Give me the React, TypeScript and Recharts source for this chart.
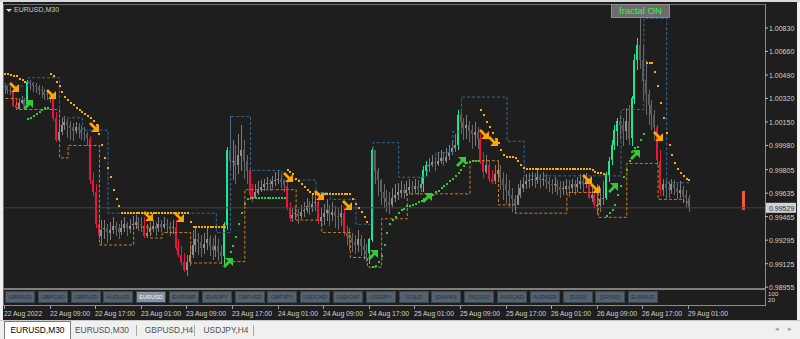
import { ComposedChart, Bar, Line, XAxis, YAxis, ReferenceLine } from "recharts";

// EURUSD M30 bars, 22 Aug 01:00 .. 29 Aug 01:00 (open = previous close)
const firstOpen = 1.0041;
const closes = [
  1.0040, 1.0038, 1.0037, 1.0027, 1.0025, 1.0029, 1.0031, 1.0027, 1.0044, 1.0043, 1.0041, 1.0040, 1.0038, 1.0037, 1.0035, 1.0034,
  1.0033, 1.0018, 1.0002, 1.0008, 1.0013, 1.0015, 1.0013, 1.0011, 1.0008, 1.0011, 1.0009, 1.0007, 1.0006, 1.0003, 0.9973, 0.9964,
  0.9941, 0.9933, 0.9937, 0.9938, 0.9935, 0.9937, 0.9940, 0.9938, 0.9935, 0.9938, 0.9941, 0.9938, 0.9940, 0.9941, 0.9943, 0.9941,
  0.9940, 0.9933, 0.9935, 0.9938, 0.9940, 0.9938, 0.9941, 0.9939, 0.9941, 0.9940, 0.9938, 0.9939, 0.9924, 0.9919, 0.9914, 0.9908,
  0.9914, 0.9919, 0.9926, 0.9930, 0.9928, 0.9924, 0.9927, 0.9930, 0.9925, 0.9922, 0.9925, 0.9921, 0.9918, 0.9941, 0.9995, 0.9987,
  0.9987, 0.9984, 0.9991, 0.9995, 0.9987, 0.9980, 0.9962, 0.9960, 0.9964, 0.9966, 0.9968, 0.9970, 0.9971, 0.9970, 0.9972, 0.9973,
  0.9974, 0.9972, 0.9969, 0.9953, 0.9946, 0.9948, 0.9949, 0.9947, 0.9950, 0.9951, 0.9954, 0.9953, 0.9956, 0.9957, 0.9943, 0.9946,
  0.9949, 0.9951, 0.9948, 0.9950, 0.9947, 0.9946, 0.9949, 0.9935, 0.9933, 0.9931, 0.9928, 0.9926, 0.9930, 0.9925, 0.9922, 0.9920,
  0.9930, 0.9995, 0.9980, 0.9973, 0.9964, 0.9960, 0.9957, 0.9955, 0.9960, 0.9962, 0.9964, 0.9966, 0.9964, 0.9966, 0.9968, 0.9967,
  0.9969, 0.9967, 0.9970, 0.9980, 0.9984, 0.9984, 0.9986, 0.9985, 0.9987, 0.9989, 0.9987, 0.9990, 0.9993, 0.9996, 0.9998, 1.0020,
  1.0015, 1.0011, 1.0013, 1.0009, 1.0006, 1.0008, 1.0003, 0.9987, 0.9979, 0.9984, 0.9974, 0.9972, 0.9977, 0.9980, 0.9974, 0.9970,
  0.9966, 0.9962, 0.9959, 0.9955, 0.9962, 0.9967, 0.9970, 0.9972, 0.9973, 0.9974, 0.9973, 0.9975, 0.9973, 0.9974, 0.9972, 0.9970,
  0.9969, 0.9970, 0.9968, 0.9966, 0.9967, 0.9969, 0.9967, 0.9970, 0.9968, 0.9970, 0.9972, 0.9970, 0.9973, 0.9960, 0.9962, 0.9955,
  0.9955, 0.9959, 0.9960, 0.9977, 0.9987, 0.9998, 1.0009, 1.0016, 1.0013, 1.0009, 1.0016, 1.0003, 1.0032, 1.0060, 1.0071, 1.0060,
  1.0045, 1.0035, 1.0027, 1.0020, 1.0011, 0.9987, 0.9966, 0.9970, 0.9967, 0.9966, 0.9970, 0.9967, 0.9964, 0.9966, 0.9962, 0.9960, 0.99529,
];
const highs = [
  1.0043, 1.0041, 1.0040, 1.0038, 1.0031, 1.0032, 1.0034, 1.0032, 1.0045, 1.0045, 1.0044, 1.0043, 1.0042, 1.0041, 1.0039, 1.0037,
  1.0036, 1.0036, 1.0022, 1.0016, 1.0018, 1.0019, 1.0017, 1.0016, 1.0014, 1.0015, 1.0014, 1.0012, 1.0011, 1.0008, 1.0005, 0.9979,
  0.9970, 0.9946, 0.9944, 0.9944, 0.9941, 0.9943, 0.9946, 0.9943, 0.9941, 0.9944, 0.9946, 0.9943, 0.9945, 0.9947, 0.9948, 0.9946,
  0.9946, 0.9946, 0.9941, 0.9943, 0.9944, 0.9943, 0.9946, 0.9944, 0.9946, 0.9945, 0.9943, 0.9944, 0.9944, 0.9930, 0.9925, 0.9920,
  0.9919, 0.9926, 0.9937, 0.9938, 0.9935, 0.9933, 0.9935, 0.9938, 0.9933, 0.9931, 0.9933, 0.9930, 0.9926, 0.9943, 0.9997, 1.0019,
  1.0002, 0.9998, 1.0006, 1.0013, 1.0002, 0.9991, 0.9979, 0.9970, 0.9970, 0.9972, 0.9973, 0.9974, 0.9975, 0.9974, 0.9976, 0.9979,
  0.9980, 0.9977, 0.9973, 0.9972, 0.9957, 0.9953, 0.9954, 0.9952, 0.9955, 0.9957, 0.9960, 0.9958, 0.9962, 0.9963, 0.9962, 0.9953,
  0.9956, 0.9959, 0.9955, 0.9957, 0.9954, 0.9953, 0.9955, 0.9953, 0.9940, 0.9938, 0.9935, 0.9933, 0.9937, 0.9933, 0.9930, 0.9927,
  0.9931, 0.9996, 0.9991, 0.9982, 0.9974, 0.9970, 0.9966, 0.9964, 0.9967, 0.9970, 0.9971, 0.9972, 0.9970, 0.9972, 0.9974, 0.9972,
  0.9974, 0.9973, 0.9975, 0.9983, 0.9987, 0.9989, 0.9991, 0.9990, 0.9993, 0.9995, 0.9993, 0.9996, 0.9998, 1.0002, 1.0006, 1.0024,
  1.0022, 1.0018, 1.0020, 1.0016, 1.0013, 1.0015, 1.0011, 1.0006, 0.9993, 0.9991, 0.9987, 0.9980, 0.9984, 0.9987, 0.9984, 0.9979,
  0.9977, 0.9973, 0.9967, 0.9962, 0.9970, 0.9973, 0.9975, 0.9977, 0.9978, 0.9979, 0.9978, 0.9980, 0.9977, 0.9979, 0.9977, 0.9975,
  0.9974, 0.9975, 0.9973, 0.9972, 0.9972, 0.9974, 0.9973, 0.9974, 0.9973, 0.9975, 0.9977, 0.9975, 0.9978, 0.9973, 0.9967, 0.9966,
  0.9970, 0.9967, 0.9972, 0.9979, 0.9990, 1.0002, 1.0013, 1.0018, 1.0020, 1.0018, 1.0025, 1.0027, 1.0034, 1.0064, 1.0076, 1.0090,
  1.0071, 1.0060, 1.0038, 1.0031, 1.0024, 1.0013, 0.9995, 0.9974, 0.9973, 0.9972, 0.9974, 0.9973, 0.9970, 0.9972, 0.9969, 0.9966, 0.9962,
];
const lows = [
  1.0035, 1.0035, 1.0034, 1.0026, 1.0024, 1.0025, 1.0028, 1.0025, 1.0027, 1.0038, 1.0037, 1.0036, 1.0035, 1.0032, 1.0031, 1.0031,
  1.0029, 1.0016, 1.0000, 1.0002, 1.0006, 1.0009, 1.0003, 1.0002, 1.0001, 1.0006, 1.0003, 1.0002, 1.0001, 0.9998, 0.9970, 0.9962,
  0.9938, 0.9930, 0.9926, 0.9930, 0.9927, 0.9930, 0.9934, 0.9933, 0.9930, 0.9933, 0.9935, 0.9933, 0.9935, 0.9937, 0.9938, 0.9936,
  0.9935, 0.9931, 0.9931, 0.9933, 0.9935, 0.9933, 0.9935, 0.9935, 0.9937, 0.9935, 0.9933, 0.9934, 0.9922, 0.9917, 0.9911, 0.9906,
  0.9904, 0.9911, 0.9917, 0.9921, 0.9919, 0.9917, 0.9920, 0.9922, 0.9918, 0.9915, 0.9917, 0.9914, 0.9912, 0.9911, 0.9937, 0.9980,
  0.9973, 0.9970, 0.9977, 0.9980, 0.9974, 0.9970, 0.9959, 0.9957, 0.9960, 0.9962, 0.9964, 0.9965, 0.9966, 0.9965, 0.9967, 0.9969,
  0.9970, 0.9967, 0.9964, 0.9951, 0.9943, 0.9943, 0.9944, 0.9941, 0.9945, 0.9946, 0.9949, 0.9948, 0.9950, 0.9951, 0.9941, 0.9940,
  0.9941, 0.9943, 0.9940, 0.9943, 0.9938, 0.9937, 0.9940, 0.9933, 0.9926, 0.9922, 0.9921, 0.9919, 0.9921, 0.9918, 0.9915, 0.9914,
  0.9912, 0.9928, 0.9970, 0.9962, 0.9955, 0.9953, 0.9950, 0.9948, 0.9953, 0.9957, 0.9959, 0.9960, 0.9959, 0.9961, 0.9963, 0.9962,
  0.9964, 0.9962, 0.9964, 0.9964, 0.9976, 0.9979, 0.9982, 0.9980, 0.9983, 0.9985, 0.9983, 0.9985, 0.9987, 0.9991, 0.9993, 0.9995,
  1.0006, 1.0002, 1.0003, 1.0001, 0.9996, 0.9998, 0.9995, 0.9984, 0.9974, 0.9977, 0.9972, 0.9970, 0.9970, 0.9972, 0.9966, 0.9959,
  0.9955, 0.9953, 0.9950, 0.9949, 0.9955, 0.9960, 0.9964, 0.9966, 0.9967, 0.9969, 0.9967, 0.9970, 0.9967, 0.9969, 0.9966, 0.9964,
  0.9963, 0.9964, 0.9962, 0.9960, 0.9962, 0.9963, 0.9961, 0.9964, 0.9962, 0.9964, 0.9966, 0.9964, 0.9967, 0.9959, 0.9957, 0.9953,
  0.9948, 0.9950, 0.9955, 0.9959, 0.9972, 0.9984, 0.9995, 0.9998, 1.0002, 0.9998, 1.0002, 0.9998, 0.9998, 1.0028, 1.0053, 1.0053,
  1.0031, 1.0020, 1.0013, 1.0009, 1.0002, 0.9984, 0.9962, 0.9962, 0.9959, 0.9960, 0.9963, 0.9962, 0.9959, 0.9960, 0.9957, 0.9954, 0.9950,
];

// bars painted by the candle-strength indicator
const strongUp = [8, 77, 78, 128, 129, 147, 148, 159, 211, 212, 213, 214, 215, 220, 221, 222];
const strongDown = [3, 4, 17, 18, 30, 31, 32, 33, 49, 60, 61, 62, 63, 86, 87, 99, 100, 110, 119, 167, 168, 170, 171, 205, 207, 229, 230];

// trailing stop dots: sell (above price) and buy (below price)
const sellStops = [
  { from: 0, levels: [1.0050, 1.0050, 1.0049, 1.0048, 1.0048, 1.0046, 1.0045, 1.0044] },
  {
    from: 16,
    levels: [
      1.0050, 1.0048, 1.0044, 1.0041, 1.0037, 1.0033, 1.0031, 1.0029, 1.0027, 1.0025, 1.0024, 1.0022, 1.0021, 1.0019, 1.0018, 1.0016,
      1.0013, 1.0006, 0.9998, 0.9989, 0.9982, 0.9975, 0.9966, 0.9959, 0.9954, 0.9949,
      0.9949, 0.9949, 0.9949, 0.9949, 0.9949, 0.9949, 0.9949, 0.9949, 0.9949, 0.9949, 0.9949, 0.9949,
      0.9949, 0.9949, 0.9949, 0.9949, 0.9949, 0.9949, 0.9949, 0.9949, 0.9949, 0.9949, 0.9949, 0.9943,
      0.9939, 0.9939, 0.9939, 0.9939, 0.9939, 0.9939, 0.9939, 0.9939, 0.9939, 0.9939, 0.9939, 0.9939,
    ],
  },
  {
    from: 99,
    levels: [
      0.9980, 0.9979, 0.9977, 0.9974, 0.9972, 0.9970, 0.9968, 0.9966, 0.9964,
      0.9963, 0.9963, 0.9963, 0.9963, 0.9963, 0.9963, 0.9963, 0.9963, 0.9963, 0.9963, 0.9963, 0.9963, 0.9963, 0.9963,
      0.9959, 0.9956, 0.9953, 0.9950, 0.9946, 0.9943,
    ],
  },
  {
    from: 167,
    levels: [
      1.0024, 1.0020, 1.0015, 1.0011, 1.0007, 1.0003, 1.0000, 0.9995, 0.9991, 0.9990, 0.9990, 0.9990, 0.9989, 0.9987, 0.9984, 0.9982,
      0.9981, 0.9981, 0.9981, 0.9981, 0.9981, 0.9981, 0.9981, 0.9981, 0.9981, 0.9981, 0.9981, 0.9981,
      0.9981, 0.9981, 0.9981, 0.9981, 0.9981, 0.9981, 0.9981, 0.9981, 0.9981, 0.9981, 0.9981,
      0.9980, 0.9979, 0.9978, 0.9978, 0.9977,
    ],
  },
  {
    from: 225,
    levels: [1.0058, 1.0058, 1.0058, 1.0051, 1.0041, 1.0029, 1.0018, 1.0007, 0.9998, 0.9991, 0.9985, 0.9981, 0.9978, 0.9976, 0.9974, 0.9973],
  },
];
const buyStops = [
  { from: 8, levels: [1.0017, 1.0018, 1.0019, 1.0021, 1.0022, 1.0024, 1.0025, 1.0025] },
  {
    from: 79,
    levels: [0.9921, 0.9925, 0.9932, 0.9941, 0.9949, 0.9956, 0.9959, 0.9960, 0.9960, 0.9960, 0.9960, 0.9960, 0.9960, 0.9960, 0.9960, 0.9960, 0.9960, 0.9960, 0.9960, 0.9960],
  },
  {
    from: 129,
    levels: [
      0.9910, 0.9911, 0.9914, 0.9918, 0.9926, 0.9935, 0.9941, 0.9944, 0.9946, 0.9949, 0.9951, 0.9952, 0.9954, 0.9954, 0.9955, 0.9956,
      0.9957, 0.9958, 0.9959, 0.9960, 0.9961, 0.9962, 0.9964, 0.9965, 0.9967, 0.9969, 0.9970, 0.9972, 0.9974, 0.9976, 0.9978, 0.9980,
      0.9983, 0.9985, 0.9986, 0.9987, 0.9987, 0.9987,
    ],
  },
  {
    from: 211,
    levels: [0.9947, 0.9949, 0.9951, 0.9955, 0.9962, 0.9969, 0.9975, 0.9980, 0.9987, 0.9993, 0.9996, 0.9997, 1.0002, 1.0006],
  },
];

// price channel, as [first bar, level] steps
const upperChannel = [
  [0, 1.0041], [8, 1.0047], [19, 1.0018], [27, 1.0009], [36, 0.9949], [74, 0.9935], [79, 1.0019], [86, 0.998],
  [97, 0.9973], [109, 0.9964], [114, 0.9959], [123, 0.9941], [129, 1.0], [138, 0.9975], [148, 0.9984], [151, 0.9993],
  [157, 1.0008], [160, 1.0033], [176, 1.0001], [182, 0.9976], [216, 1.0024], [224, 1.009], [232, 0.9971],
];
const lowerChannel = [
  [0, 1.0032], [4, 1.0024], [19, 0.9989], [22, 0.9998], [33, 0.9926], [45, 0.9939], [51, 0.9931], [55, 0.9935],
  [65, 0.9913], [78, 0.9914], [84, 0.9966], [102, 0.9944], [111, 0.9935], [121, 0.9917], [127, 0.991], [132, 0.9945],
  [141, 0.9963], [163, 0.9987], [173, 0.9955], [179, 0.9949], [197, 0.9964], [208, 0.9946], [218, 0.9985], [229, 0.9959],
  [238, 0.9957], [240, 0.9955],
];

// signal arrows, as [bar, price]
const sellArrows = [
  [3, 1.004], [16, 1.0035], [31, 1.0011], [50, 0.9947], [61, 0.9946], [99, 0.9975], [110, 0.9962],
  [120, 0.9955], [168, 1.0006], [171, 1.0001], [204, 0.9974], [207, 0.9967], [229, 1.0005],
];
const buyArrows = [[8, 1.0027], [78, 0.9913], [129, 0.9919], [148, 0.996], [160, 0.9986], [213, 0.9967], [221, 0.9991]];

const pendingBar = { slot: 259, low: 0.9951, high: 0.9965 };
const lastPrice = 0.99529;

const timeLabels = [
  "22 Aug 2022", "22 Aug 09:00", "22 Aug 17:00", "23 Aug 01:00", "23 Aug 09:00", "23 Aug 17:00", "24 Aug 01:00", "24 Aug 09:00",
  "24 Aug 17:00", "25 Aug 01:00", "25 Aug 09:00", "25 Aug 17:00", "26 Aug 01:00", "26 Aug 09:00", "26 Aug 17:00", "29 Aug 01:00",
];
const priceTicks = [1.0083, 1.0066, 1.0049, 1.0032, 1.0015, 0.9998, 0.99805, 0.99635, 0.99465, 0.99295, 0.99125, 0.98955];
const symbols = [
  "GBPAUD", "GBPCAD", "GBPNZD", "AUDUSD", "EURUSD", "EURGBP", "EURJPY", "GBPUSD", "GBPJPY", "USDCAD",
  "USDCHF", "USDJPY", "GOLD", "[DAX40]", "[NQ100]", "AUDCAD", "AUDNZD", "[DJ30]", "[SP500]", "EURAUD",
];
const tabs = ["EURUSD,M30", "EURUSD,M30", "GBPUSD,H4", "USDJPY,H4"];

const SLOTS = 267;
const BARS_PER_LABEL = 16;
const FONT = "'Liberation Sans', Arial, sans-serif";

const stepAt = (steps: number[][], i: number) => {
  let v: number | null = null;
  for (const [s, p] of steps) if (s <= i) v = p;
  return v;
};
const runAt = (runs: { from: number; levels: number[] }[], i: number) => {
  for (const r of runs) if (i >= r.from && i < r.from + r.levels.length) return r.levels[i - r.from];
  return null;
};
const pointAt = (pts: number[][], i: number) => {
  const p = pts.find((q) => q[0] === i);
  return p ? p[1] : null;
};

const rows = Array.from({ length: SLOTS }, (_, i) => {
  const has = i < closes.length;
  const open = i === 0 ? firstOpen : closes[i - 1];
  let kind = "plain";
  if (strongUp.includes(i)) kind = "up";
  if (strongDown.includes(i)) kind = "down";
  if (i === pendingBar.slot) kind = "pending";
  return {
    slot: i,
    range: has ? [lows[i], highs[i]] : i === pendingBar.slot ? [pendingBar.low, pendingBar.high] : null,
    open: has ? open : null,
    close: has ? closes[i] : null,
    kind,
    upper: has ? stepAt(upperChannel, i) : null,
    lower: has ? stepAt(lowerChannel, i) : null,
    sell: runAt(sellStops, i),
    buy: runAt(buyStops, i),
    sellArrow: pointAt(sellArrows, i),
    buyArrow: pointAt(buyArrows, i),
  };
});

const tickSlots = timeLabels.map((_, k) => k * BARS_PER_LABEL);

function Candle(props: any) {
  const { x, y, width, height, payload } = props;
  if (!payload || !payload.range) return <g />;
  const [lo, hi] = payload.range;
  const cx = Math.round(x + width / 2) - 1;
  const top = Math.min(y, y + height);
  const h = Math.abs(height);
  if (payload.kind === "pending") {
    return <rect x={cx - 1} y={Math.round(top)} width={3} height={Math.round(h)} fill="#f25a38" shapeRendering="crispEdges" />;
  }
  const toY = (p: number) => (hi === lo ? top : top + ((hi - p) / (hi - lo)) * h);
  const yo = toY(payload.open);
  const yc = toY(payload.close);
  const bTop = Math.round(Math.min(yo, yc));
  const bH = Math.max(1, Math.round(Math.abs(yo - yc)));
  const plainUp = payload.close >= payload.open;
  const body =
    payload.kind === "up" ? "#1ee68c" : payload.kind === "down" ? "#e8163c" : plainUp ? "#8f8f8f" : "#5c5c5c";
  const wick =
    payload.kind === "up" ? "#1ee68c" : payload.kind === "down" ? "#e8163c" : plainUp ? "#7c7c7c" : "#6a6a6a";
  return (
    <g shapeRendering="crispEdges">
      <rect x={cx} y={Math.round(top)} width={1} height={Math.max(1, Math.round(h))} fill={wick} />
      <rect x={cx - 1} y={bTop} width={2} height={bH} fill={body} />
    </g>
  );
}

const stopDot = (colour: string, name: string) => (props: any) => {
  const { cx, cy, value, index } = props;
  if (value == null || cy == null || Number.isNaN(cy)) return <g key={`${name}${index}`} />;
  return (
    <rect key={`${name}${index}`} x={Math.round(cx) - 1} y={Math.round(cy) - 1} width={2} height={2} fill={colour} shapeRendering="crispEdges" />
  );
};

const arrowDot = (colour: string, name: string, up: boolean) => (props: any) => {
  const { cx, cy, value, index } = props;
  if (value == null || cy == null || Number.isNaN(cy)) return <g key={`${name}${index}`} />;
  const d = up ? "M5,-5 L-3,-5 L0,-2 L-5,3 L-3,5 L2,0 L5,3 Z" : "M5,5 L-3,5 L0,2 L-5,-3 L-3,-5 L2,0 L5,-3 Z";
  return <path key={`${name}${index}`} d={d} transform={`translate(${Math.round(cx)},${Math.round(cy)})`} fill={colour} />;
};

function PriceTick(props: any) {
  const { y, payload } = props;
  const v = payload.value as number;
  if (v === lastPrice) {
    return (
      <g>
        <rect x={766} y={y - 5} width={30} height={10} fill="#d2d2d2" />
        <text x={769} y={y + 0.5} dominantBaseline="central" fontSize={7} fontFamily={FONT} fill="#2a2a2a">
          {v.toFixed(5)}
        </text>
      </g>
    );
  }
  return (
    <g>
      <line x1={765} x2={768} y1={y} y2={y} stroke="#bdbdbd" />
      <text x={769} y={y + 0.5} dominantBaseline="central" fontSize={7} fontFamily={FONT} fill="#d0d0d0">
        {v.toFixed(5)}
      </text>
    </g>
  );
}

function TimeTick(props: any) {
  const { x, payload } = props;
  const label = timeLabels[tickSlots.indexOf(payload.value)];
  const tx = Math.round(x - 1.4);
  return (
    <g>
      <line x1={tx + 0.5} x2={tx + 0.5} y1={306} y2={309} stroke="#a0a0a0" />
      <text x={tx} y={316} fontSize={6.8} fontFamily={FONT} fill="#d0d0d0">
        {label}
      </text>
    </g>
  );
}

function PriceChart() {
  return (
    <ComposedChart width={800} height={320} data={rows} margin={{ top: 5, right: 0, bottom: 0, left: 4 }} barCategoryGap={0} barGap={0}>
      <XAxis dataKey="slot" ticks={tickSlots} interval={0} height={32} axisLine={false} tickLine={false} tick={(p: any) => <TimeTick {...p} />} />
      <YAxis
        orientation="right"
        type="number"
        domain={[0.98949, 1.00996]}
        allowDataOverflow
        ticks={[...priceTicks, lastPrice]}
        interval={0}
        width={35}
        axisLine={false}
        tickLine={false}
        tick={(p: any) => <PriceTick {...p} />}
      />
      <ReferenceLine y={lastPrice} stroke="#454545" />
      <Bar dataKey="range" shape={(p: any) => <Candle {...p} />} isAnimationActive={false} />
      <Line type="stepAfter" dataKey="upper" stroke="#2e6c9c" strokeDasharray="3 2" dot={false} activeDot={false} isAnimationActive={false} />
      <Line type="stepAfter" dataKey="lower" stroke="#cf801f" strokeDasharray="3 2" dot={false} activeDot={false} isAnimationActive={false} />
      <Line dataKey="sell" stroke="none" dot={stopDot("#ffab00", "s")} activeDot={false} isAnimationActive={false} />
      <Line dataKey="buy" stroke="none" dot={stopDot("#2fcc37", "b")} activeDot={false} isAnimationActive={false} />
      <Line dataKey="sellArrow" stroke="none" dot={arrowDot("#ffa500", "sa", false)} activeDot={false} isAnimationActive={false} />
      <Line dataKey="buyArrow" stroke="none" dot={arrowDot("#35c935", "ba", true)} activeDot={false} isAnimationActive={false} />
    </ComposedChart>
  );
}

const abs = (left: number, top: number, width: number, height: number, background: string) => ({
  position: "absolute" as const,
  left,
  top,
  width,
  height,
  background,
});

export default function App() {
  const tabLefts = [4, 72, 139, 196];
  const sepLefts = [136, 194, 253];
  return (
    <div style={{ position: "absolute", left: 0, top: 0, width: 800, height: 339, background: "#f0f0f0", overflow: "hidden", fontFamily: FONT }}>
      <div style={abs(0, 0, 800, 2, "#d9d9d9")} />
      <div style={abs(3, 2, 794, 318, "#1e1e1e")} />
      <div style={abs(3, 4, 762, 1, "#6e6e6e")} />
      <div style={abs(3, 4, 1, 302, "#6e6e6e")} />
      <div style={abs(765, 4, 1, 302, "#8c8c8c")} />
      <div style={abs(3, 288, 763, 2, "#7e7e7e")} />
      <div style={abs(3, 305, 763, 1, "#8c8c8c")} />

      <div style={{ position: "absolute", left: 0, top: 0 }}>
        <PriceChart />
      </div>

      {/* symbol label */}
      <div style={{ position: "absolute", left: 6, top: 9, width: 0, height: 0, borderLeft: "3px solid transparent", borderRight: "3px solid transparent", borderTop: "3px solid #d8d8d8" }} />
      <div style={{ position: "absolute", left: 14, top: 5, fontSize: 7, lineHeight: "10px", color: "#c8c8c8" }}>EURUSD,M30</div>

      {/* fractal button */}
      <div
        style={{
          position: "absolute",
          left: 611,
          top: 4,
          width: 57,
          height: 12,
          background: "#6d6d6d",
          border: "1px solid #8e8e8e",
          color: "#39f03c",
          fontSize: 9.5,
          lineHeight: "12px",
          textAlign: "center",
        }}
      >
        fractal ON
      </div>

      {/* symbol buttons in the sub-window */}
      {symbols.map((s, k) => {
        const active = s === "EURUSD";
        return (
          <div
            key={s}
            style={{
              position: "absolute",
              left: Math.round(5 + 32.8 * k),
              top: 291,
              width: 28,
              height: 10,
              background: active ? "#8293a3" : "#55616d",
              border: "1px solid #3c4650",
              color: active ? "#eef3f8" : "#25303b",
              fontSize: 5.6,
              lineHeight: "10px",
              textAlign: "center",
              whiteSpace: "nowrap",
            }}
          >
            {s}
          </div>
        );
      })}
      <div style={{ position: "absolute", left: 768, top: 291, fontSize: 6.2, lineHeight: "6px", color: "#d0d0d0" }}>
        100
        <br />
        20
      </div>

      {/* tab bar */}
      <div style={abs(0, 320, 800, 1, "#c8c8c8")} />
      <div style={{ position: "absolute", left: 4, top: 321, width: 65, height: 18, background: "#ffffff", border: "1px solid #7a7a7a", borderBottom: "none" }} />
      {tabs.map((t, k) => (
        <div
          key={k}
          style={{
            position: "absolute",
            left: tabLefts[k],
            top: 324,
            width: k === 0 ? 67 : 60,
            fontSize: 8.4,
            lineHeight: "12px",
            color: k === 0 ? "#000000" : "#505050",
            textAlign: "center",
          }}
        >
          {t}
        </div>
      ))}
      {sepLefts.map((l) => (
        <div key={l} style={abs(l, 325, 1, 11, "#a8a8a8")} />
      ))}
      <div style={{ position: "absolute", left: 775, top: 325, fontSize: 7, color: "#9a9a9a" }}>◂</div>
      <div style={{ position: "absolute", left: 788, top: 325, fontSize: 7, color: "#9a9a9a" }}>▸</div>
    </div>
  );
}
